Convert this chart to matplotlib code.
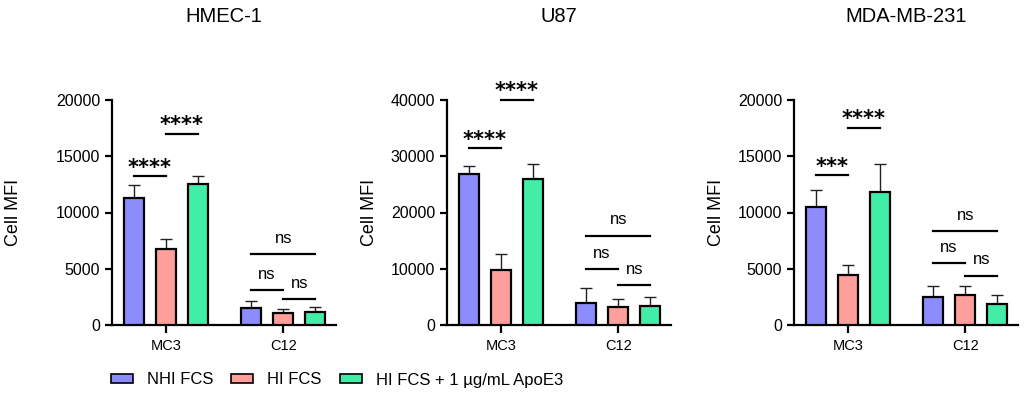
import numpy as np
import matplotlib
matplotlib.use('Agg')
import matplotlib.pyplot as plt
from matplotlib.patches import Patch

plt.rcParams['font.family'] = ['Liberation Sans', 'DejaVu Sans']

# 数据
titles = ['HMEC-1', 'U87', 'MDA-MB-231']
groups = ['MC3', 'C12']
series = ['NHI FCS', 'HI FCS', 'HI FCS + 1 µg/mL ApoE3']
colors = ['#8C8CFF', '#FF9F9B', '#42EDA8']
ymax = [20000, 40000, 20000]

# 每个面板: [NHI, HI, HI+ApoE3] 对 MC3, C12
hmec_mean = [[11300, 1550], [6800, 1100], [12500, 1200]]
hmec_err = [[1100, 550], [850, 350], [700, 400]]
u87_mean = [[26800, 4000], [9800, 3200], [25900, 3400]]
u87_err = [[1450, 2500], [2800, 1400], [2650, 1650]]
mda_mean = [[10500, 2450], [4450, 2650], [11800, 1850]]
mda_err = [[1500, 1050], [850, 830], [2500, 850]]

means = [hmec_mean, u87_mean, mda_mean]
errs = [hmec_err, u87_err, mda_err]

# 显著性标注: (组, 系列a, 系列b, 高度, 文本)
hmec_sig = [(0, 0, 1, 13200, '****'), (0, 1, 2, 17000, '****'),
            (1, 0, 2, 6300, 'ns'), (1, 0, 1, 3100, 'ns'), (1, 1, 2, 2300, 'ns')]
u87_sig = [(0, 0, 1, 31400, '****'), (0, 1, 2, 40000, '****'),
           (1, 0, 2, 15900, 'ns'), (1, 0, 1, 10000, 'ns'), (1, 1, 2, 7050, 'ns')]
mda_sig = [(0, 0, 1, 13300, '***'), (0, 1, 2, 17500, '****'),
           (1, 0, 2, 8350, 'ns'), (1, 0, 1, 5480, 'ns'), (1, 1, 2, 4400, 'ns')]
sigs = [hmec_sig, u87_sig, mda_sig]

fig = plt.figure(figsize=(10.24, 3.96), dpi=100)
lefts = [112, 447, 794]
label_x = [-0.40, -0.308, -0.308]
offset = 0.274
width = 0.17
x = np.arange(len(groups))

for p in range(3):
    ax = fig.add_axes([lefts[p] / 1024, 71 / 396, 224 / 1024, 225 / 396])
    for i in range(3):
        pos = x + (i - 1) * offset
        ax.bar(pos, means[p][i], width, color=colors[i], edgecolor='black',
               linewidth=1.6, zorder=3)
        ax.errorbar(pos, means[p][i], yerr=[np.zeros(2), errs[p][i]], fmt='none',
                    ecolor='#222222', elinewidth=1.0, capsize=4, capthick=1.0, zorder=2)
    for g, a, b, h, txt in sigs[p]:
        x1 = g + (a - 1) * offset
        x2 = g + (b - 1) * offset
        ax.plot([x1, x2], [h, h], color='black', lw=1.6, clip_on=False, zorder=4)
        if txt == 'ns':
            ax.annotate(txt, ((x1 + x2) / 2, h), xytext=(0, 8), textcoords='offset points',
                        ha='center', va='baseline', fontsize=12, annotation_clip=False)
        else:
            ax.annotate(txt, ((x1 + x2) / 2, h), xytext=(0, 2), textcoords='offset points',
                        ha='center', va='baseline', fontsize=15, fontweight='bold',
                        family='DejaVu Sans', annotation_clip=False)
    ax.set_xlim(-0.46, 1.45)
    ax.set_ylim(0, ymax[p])
    ax.set_yticks(np.linspace(0, ymax[p], 5))
    ax.set_xticks(x)
    ax.set_xticklabels(groups, fontsize=10.5)
    ax.tick_params(axis='y', labelsize=11.5, width=1.6, length=5)
    ax.tick_params(axis='x', width=1.6, length=6, pad=4)
    for s in ['top', 'right']:
        ax.spines[s].set_visible(False)
    for s in ['left', 'bottom']:
        ax.spines[s].set_linewidth(1.6)
    ax.set_ylabel('Cell MFI', fontsize=13)
    ax.yaxis.set_label_coords(label_x[p], 0.5)
    ax.set_title(titles[p], fontsize=14.5, pad=56)

handles = [Patch(facecolor=c, edgecolor='black', linewidth=1.2) for c in colors]
fig.legend(handles, series, loc='center', bbox_to_anchor=(337 / 1024, 1 - 380 / 396),
           ncol=3, frameon=False, fontsize=12, handlelength=1.32, handleheight=0.5,
           handletextpad=0.84, columnspacing=1.08)

plt.savefig('out.png', dpi=100)
